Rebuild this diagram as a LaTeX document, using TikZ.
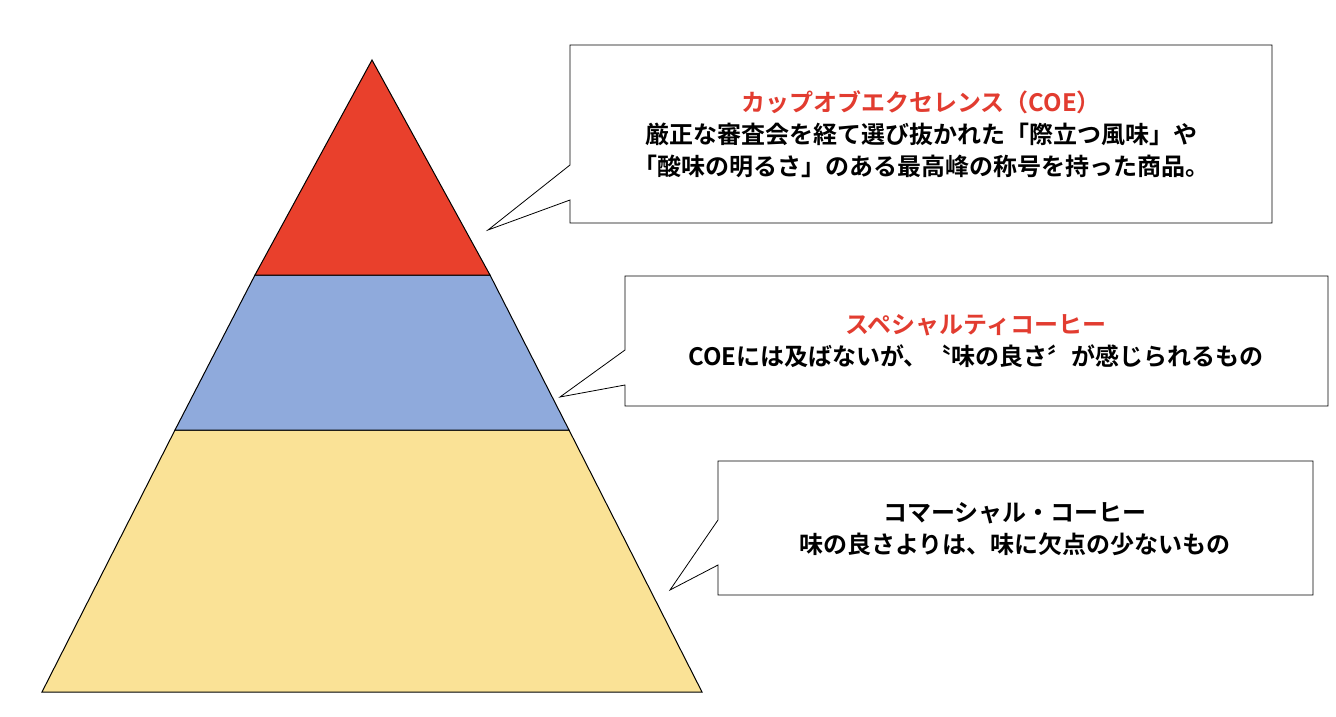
\documentclass[tikz,border=0pt]{standalone}
\usepackage{fontspec}
\setmainfont{Noto Sans CJK JP}[BoldFont={Noto Sans CJK JP Bold}]
\usetikzlibrary{positioning}
\definecolor{topred}{RGB}{233,64,44}
\definecolor{midblue}{RGB}{143,170,220}
\definecolor{lowyellow}{RGB}{250,226,150}
\definecolor{titlered}{RGB}{226,60,48}
\begin{document}
\begin{tikzpicture}[x=1pt,y=-1pt,
    band/.style={draw=black,line width=1pt},
    callout/.style={draw=black,fill=white,line width=0.8pt},
    note/.style={align=center,font=\fontsize{24}{32}\selectfont\bfseries,inner sep=0pt},
    title/.style={text=titlered}]
  \useasboundingbox (0,0) rectangle (1336,717);
  % pyramid
  \coordinate (apex) at (372,60);
  \coordinate (rl) at (255,275);
  \coordinate (rr) at (490,275);
  \coordinate (bl) at (175,430);
  \coordinate (br) at (569,430);
  \coordinate (yl) at (42,692);
  \coordinate (yr) at (702,692);
  \draw[band,fill=lowyellow] (bl) -- (br) -- (yr) -- (yl) -- cycle;
  \draw[band,fill=midblue] (rl) -- (rr) -- (br) -- (bl) -- cycle;
  \draw[band,fill=topred] (apex) -- (rr) -- (rl) -- cycle;
  % callouts
  \draw[callout] (570,45) -- (1272,45) -- (1272,223) -- (570,223) -- (570,200)
    -- (488,230) -- (570,165) -- cycle;
  \draw[callout] (625,276) -- (1328,276) -- (1328,406) -- (625,406) -- (625,385)
    -- (560,397) -- (625,350) -- cycle;
  \draw[callout] (718,461) -- (1313,461) -- (1313,595) -- (718,595) -- (718,565)
    -- (670,590) -- (718,520) -- cycle;
  % texts
  \node (coe) [note] at (921,134) {{\color{titlered}カップオブエクセレンス（COE）}\\
    厳正な審査会を経て選び抜かれた「際立つ風味」や\\
    「酸味の明るさ」のある最高峰の称号を持った商品。};
  \node (special) [note] at (976,341) {{\color{titlered}スペシャルティコーヒー}\\
    COEには及ばないが、〝味の良さ〞が感じられるもの};
  \node (commercial) [note] at (1015,529) {コマーシャル・コーヒー\\
    味の良さよりは、味に欠点の少ないもの};
\end{tikzpicture}
\end{document}
